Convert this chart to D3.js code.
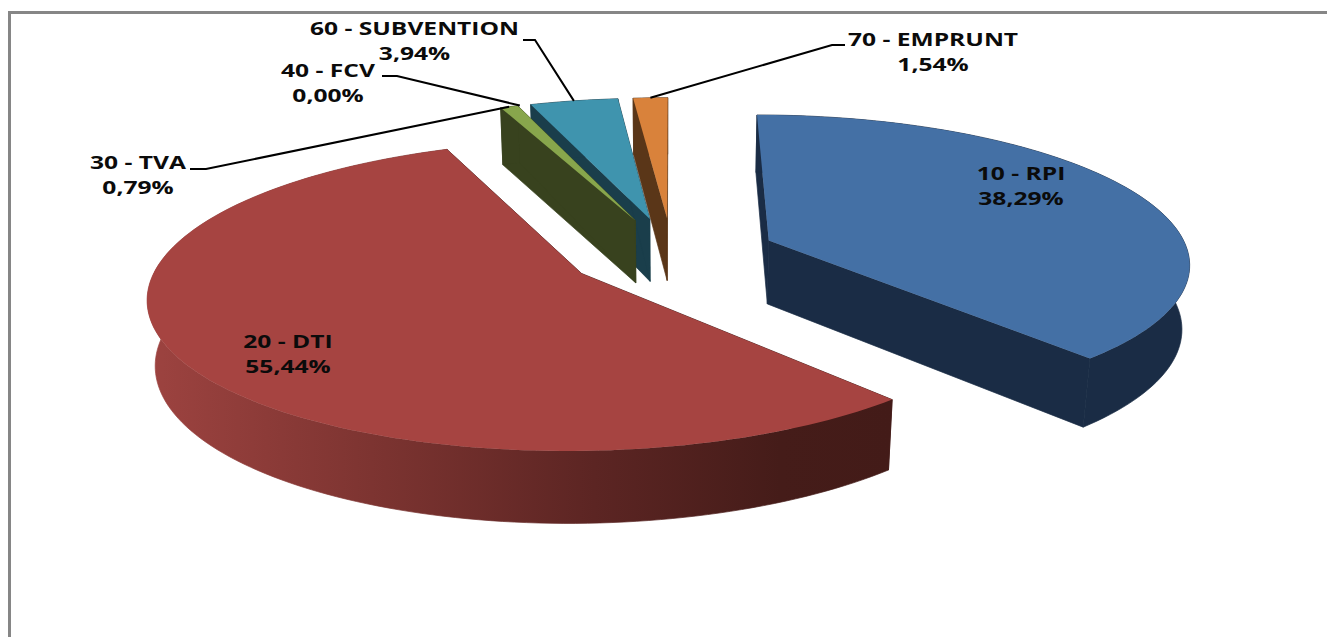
<!DOCTYPE html>
<html><head><meta charset="utf-8">
<script src="https://cdn.jsdelivr.net/npm/d3@7/dist/d3.min.js"></script>
<style>html,body{margin:0;padding:0;background:#fff;overflow:hidden}svg{display:block}</style>
</head><body><svg id="c" width="1327" height="637"></svg>
<script>
const categories = ["10 - RPI","20 - DTI","30 - TVA","40 - FCV","60 - SUBVENTION","70 - EMPRUNT"];
const values = [38.29,55.44,0.79,0.00,3.94,1.54];
const valueLabels = ["38,29%","55,44%","0,79%","0,00%","3,94%","1,54%"];
const topColors = ["#4470a5","#a64441","#88a64c","#6f5a96","#3f94ae","#d9823b"];
const wallColors = ["#1a2c45","url(#redWall)","#38421e","#2c2340","#1a3e4b","#5a3618"];

// label layout: centre x, first line y, optional leader start and elbow
const labelLayout = [
  {x:1021,y:175},
  {x:288,y:343},
  {x:138,y:164,lead:[[190,169],[206,169]]},
  {x:328,y:72,lead:[[382,76],[397,76]]},
  {x:414.5,y:30,lead:[[523,40],[535,40]]},
  {x:933,y:41,lead:[[845,45],[832,45]]}
];

// scene parameters of the perspective disc
const cx=672, cy=253.5, R=420, ry=146.5, persp=0.14, explode=0.25, D=65, qz=0.015;
function project(u,v,z){
  const w=1-persp*v+qz*z;
  return [cx+R*u/w, cy+(ry*v+D*z)/w];
}
const svg=d3.select("#c");
const defs=svg.append("defs");
const grad=defs.append("linearGradient").attr("id","redWall").attr("gradientUnits","userSpaceOnUse")
  .attr("x1",148).attr("x2",892).attr("y1",0).attr("y2",0);
[[0,"#9d4340"],[0.3,"#7d3431"],[0.6,"#5c2523"],[0.85,"#451c19"],[1,"#431b18"]]
  .forEach(s=>grad.append("stop").attr("offset",s[0]).attr("stop-color",s[1]));

// frame
svg.append("path").attr("d",d3.line()([[1327,12.5],[9.5,12.5],[9.5,637]]))
  .attr("fill","none").attr("stroke","#868686").attr("stroke-width",3);

const arcs=d3.pie().sort(null).value(d=>d)(values);
const line=d3.line();
const angleScale=d3.scaleLinear().domain([0,1]);
function geom(a){
  const mid=(a.startAngle+a.endAngle)/2;
  const ox=explode*Math.sin(mid), oy=-explode*Math.cos(mid);
  const n=Math.max(2,Math.ceil((a.endAngle-a.startAngle)*40));
  angleScale.range([a.startAngle,a.endAngle]);
  const rim=d3.range(n+1).map(i=>{const t=angleScale(i/n);return [ox+Math.sin(t),oy-Math.cos(t)];});
  return {mid,ox,oy,rim};
}
function at(p,z){return project(p[0],p[1],z);}

const g=svg.append("g");
const order=[5,4,3,2,1,0];
order.forEach(i=>{
  const a=arcs[i]; if(values[i]===0) return;
  const {ox,oy,rim}=geom(a);
  const apex=[ox,oy];
  const first=rim[0], last=rim[rim.length-1];
  const faces=[[apex,first],[last,apex]];
  const flat=i===1?"#431b18":wallColors[i];
  faces.forEach(f=>{
    const q=[at(f[0],0),at(f[1],0),at(f[1],1),at(f[0],1)];
    g.append("path").attr("d",line(q)+"Z").attr("fill",flat).attr("stroke",flat).attr("stroke-width",0.7);
  });
  const wall=rim.map(p=>at(p,0)).concat(rim.slice().reverse().map(p=>at(p,1)));
  g.append("path").attr("d",line(wall)+"Z").attr("fill",wallColors[i]).attr("stroke",wallColors[i]).attr("stroke-width",0.7);
  const top=[at(apex,0)].concat(rim.map(p=>at(p,0)));
  g.append("path").attr("d",line(top)+"Z").attr("fill",topColors[i]);
});

// leaders
arcs.forEach((a,i)=>{
  const L=labelLayout[i]; if(!L.lead) return;
  const {ox,oy,mid}=geom(a);
  const end=project(ox+Math.sin(mid),oy-Math.cos(mid),0);
  svg.append("path").attr("d",line(L.lead.concat([end]))).attr("fill","none")
    .attr("stroke","#000").attr("stroke-width",2);
});

// labels
const sx=1.33;
categories.forEach((c,i)=>{
  const L=labelLayout[i];
  [[c,L.y],[valueLabels[i],L.y+25]].forEach(([s,y])=>{
    svg.append("text").text(s)
      .attr("transform",`translate(${L.x},${y}) scale(${sx},1)`)
      .attr("text-anchor","middle").attr("dominant-baseline","middle")
      .attr("font-family","'Open Sans','DejaVu Sans',sans-serif")
      .attr("font-weight",700).attr("font-size",18.5).attr("fill","#0b0b0b");
  });
});
</script></body></html>
